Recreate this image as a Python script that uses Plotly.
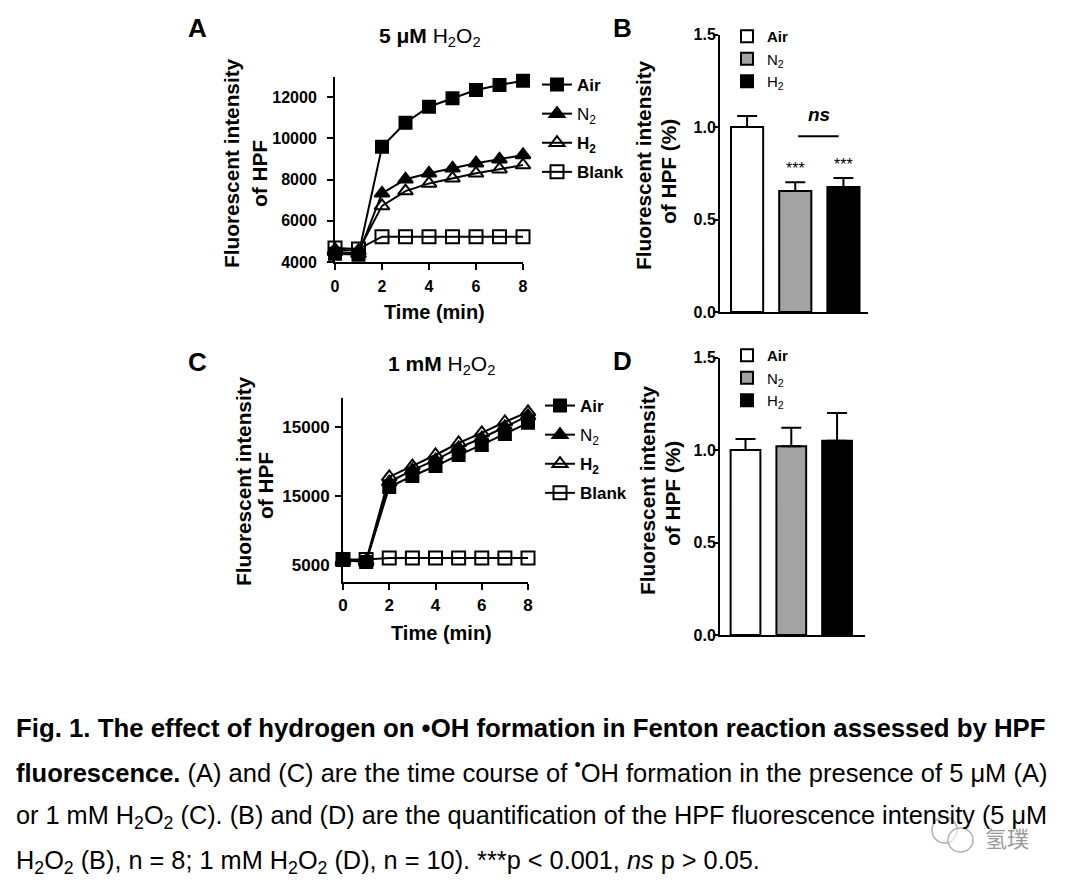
import plotly.graph_objects as go

W, H = 1066, 883
OFF = 8  # page body margin
FONT = "Liberation Sans, Arial, sans-serif"

# ---------------- data ----------------
time_min = [0, 1, 2, 3, 4, 5, 6, 7, 8]

# Panel A: 5 uM H2O2
a_air = [4400, 4350, 9590, 10750, 11530, 11940, 12340, 12580, 12790]
a_n2 = [4500, 4400, 7330, 8010, 8300, 8540, 8790, 8980, 9190]
a_h2 = [4600, 4550, 6720, 7440, 7810, 8060, 8300, 8500, 8700]
a_blank = [4680, 4630, 5230, 5230, 5230, 5230, 5230, 5230, 5230]

# Panel C: 1 mM H2O2
c_air = [5360, 5220, 10650, 11450, 12170, 12970, 13700, 14490, 15300]
c_n2 = [5300, 5250, 11010, 11880, 12600, 13480, 14200, 15000, 15800]
c_h2 = [5400, 5300, 11380, 12170, 12970, 13840, 14570, 15360, 16090]
c_blank = [5400, 5400, 5500, 5500, 5500, 5500, 5500, 5500, 5500]

# Panels B and D: normalised intensity (mean, SEM)
groups = ["Air", "N2", "H2"]
b_mean = [1.00, 0.654, 0.676]
b_err = [0.059, 0.048, 0.048]
d_mean = [1.00, 1.02, 1.05]
d_err = [0.06, 0.10, 0.15]

# tick labels
a_xticks = [0, 2, 4, 6, 8]
a_xticklabels = ["0", "2", "4", "6", "8"]
a_yticks = [4000, 6000, 8000, 10000, 12000]
a_yticklabels = ["4000", "6000", "8000", "10000", "12000"]
c_yticks = [5000, 10000, 15000]
c_yticklabels = ["5000", "15000", "15000"]
bar_yticks = [0.0, 0.5, 1.0, 1.5]
bar_yticklabels = ["0.0", "0.5", "1.0", "1.5"]


# ---------------- helpers ----------------
def fx(p):
    return (p - OFF) / W


def fy(p):
    return 1 - (p - OFF) / H


def tf(size):
    return dict(family=FONT, size=size, color="black", weight="bold")


axis_common = dict(
    showline=True, linecolor="black", linewidth=2,
    ticks="outside", ticklen=6, tickwidth=2, tickcolor="black",
    showgrid=False, zeroline=False, tickfont=tf(16),
)

fig = go.Figure()

line_names = ["<b>Air</b>", "N<sub>2</sub>", "<b>H<sub>2</sub></b>", "<b>Blank</b>"]
symbols = ["square", "triangle-up", "triangle-up-open", "square-open"]
sizes = [12, 13, 13, 13]


def add_lines(series, xa, ya, legend):
    for s, name, sym, sz in zip(series, line_names, symbols, sizes):
        fig.add_trace(go.Scatter(
            x=time_min, y=s, mode="lines+markers", name=name,
            xaxis=xa, yaxis=ya, legend=legend, legendgroup=legend + name,
            line=dict(color="black", width=2),
            marker=dict(symbol=sym, size=sz, color="black",
                        line=dict(color="black", width=2)),
            cliponaxis=False,
        ))


add_lines([a_air, a_n2, a_h2, a_blank], "x", "y", "legend")
add_lines([c_air, c_n2, c_h2, c_blank], "x3", "y3", "legend3")

bar_colors = ["white", "#a3a3a3", "black"]
bar_names = ["<b>Air</b>", "N<sub>2</sub>", "H<sub>2</sub>"]


def add_bars(means, errs, xa, ya, legend, width):
    for i, (m, e) in enumerate(zip(means, errs)):
        fig.add_trace(go.Bar(
            x=[i], y=[m], width=width, name=bar_names[i],
            xaxis=xa, yaxis=ya, legend=legend, legendgroup=legend + groups[i],
            marker=dict(color=bar_colors[i], line=dict(color="black", width=2)),
            error_y=dict(type="data", symmetric=False, array=[e], arrayminus=[0],
                         color="black", thickness=2, width=10),
        ))


add_bars(b_mean, b_err, "x2", "y2", "legend2", 0.667)
add_bars(d_mean, d_err, "x4", "y4", "legend4", 0.65)

fig.update_layout(
    width=W, height=H, margin=dict(l=0, r=0, t=0, b=0, autoexpand=False),
    paper_bgcolor="white", plot_bgcolor="white",
    barmode="overlay", showlegend=True,
    font=dict(family=FONT, color="black"),
    # Panel A
    xaxis=dict(axis_common, domain=[fx(335), fx(523)], range=[0, 8], anchor="y",
               tickvals=a_xticks, ticktext=a_xticklabels, tickfont=tf(16),
               ticklabelstandoff=3),
    yaxis=dict(axis_common, domain=[fy(262), fy(77)], range=[4000, 12970], anchor="x",
               tickvals=a_yticks, ticktext=a_yticklabels, ticklabelstandoff=7),
    # Panel B
    xaxis2=dict(axis_common, domain=[fx(720), fx(868)], range=[-0.5625, 2.51], anchor="y2",
                showticklabels=False, ticks=""),
    yaxis2=dict(axis_common, domain=[fy(312), fy(34.5)], range=[0, 1.5], anchor="x2",
                tickvals=bar_yticks, ticktext=bar_yticklabels, ticklen=5,
                ticklabelstandoff=-6, tickfont=tf(16)),
    # Panel C
    xaxis3=dict(axis_common, domain=[fx(343), fx(528)], range=[0, 8], anchor="y3",
                tickvals=a_xticks, ticktext=a_xticklabels, tickfont=tf(17),
                ticklabelstandoff=1),
    yaxis3=dict(axis_common, domain=[fy(582), fy(398)], range=[3768, 17100], anchor="x3",
                tickvals=c_yticks, ticktext=c_yticklabels, ticklabelstandoff=2,
                tickfont=tf(17)),
    # Panel D
    xaxis4=dict(axis_common, domain=[fx(720), fx(865)], range=[-0.557, 2.61], anchor="y4",
                showticklabels=False, ticks=""),
    yaxis4=dict(axis_common, domain=[fy(635), fy(357.5)], range=[0, 1.5], anchor="x4",
                tickvals=bar_yticks, ticktext=bar_yticklabels, ticklen=5,
                ticklabelstandoff=-6, tickfont=tf(16)),
)

leg_common = dict(bgcolor="rgba(0,0,0,0)", borderwidth=0, xanchor="left", yanchor="top",
                  tracegroupgap=4, itemwidth=30, itemclick=False,
                  font=dict(family=FONT, size=17, color="black"))
bar_leg = dict(leg_common, tracegroupgap=0, font=dict(family=FONT, size=15, color="black"))
fig.update_layout(
    legend=dict(leg_common, x=fx(537), y=fy(67)),
    legend3=dict(leg_common, x=fx(540), y=fy(388)),
    legend2=dict(bar_leg, x=fx(727), y=fy(20)),
    legend4=dict(bar_leg, x=fx(727), y=fy(339)),
)

annotations = []


def ann(text, x, y, size, bold=False, angle=0, xanchor="center", yanchor="middle",
        color="black", family=FONT):
    annotations.append(dict(
        text=text, x=fx(x), y=fy(y), xref="paper", yref="paper", showarrow=False,
        xanchor=xanchor, yanchor=yanchor, textangle=angle,
        font=dict(family=family, size=size, color=color,
                  weight="bold" if bold else "normal"),
    ))


# Panel letters
ann("A", 197, 28, 26, bold=True)
ann("B", 622, 28, 26, bold=True)
ann("C", 197, 362, 26, bold=True)
ann("D", 622, 361, 26, bold=True)

# Panel titles
ann("<b>5 μM</b> H<sub>2</sub>O<sub>2</sub>", 430, 37, 21)
ann("<b>1 mM</b> H<sub>2</sub>O<sub>2</sub>", 441, 365, 21)

# Y-axis titles
ann("Fluorescent intensity", 231, 163, 20.8, bold=True, angle=-90)
ann("of HPF", 259, 174, 20.8, bold=True, angle=-90)
ann("Fluorescent intensity", 243, 481, 20.8, bold=True, angle=-90)
ann("of HPF", 265, 486, 20.8, bold=True, angle=-90)
ann("Fluorescent intensity", 644, 165, 20.8, bold=True, angle=-90)
ann("of HPF (%)", 668, 172, 20.8, bold=True, angle=-90)
ann("Fluorescent intensity", 647, 490, 20.8, bold=True, angle=-90)
ann("of HPF (%)", 673, 494, 20.8, bold=True, angle=-90)

# X-axis titles
ann("Time (min)", 434, 312, 20, bold=True)
ann("Time (min)", 441, 633, 20, bold=True)

# significance marks in panel B (data coordinates)
for i in (1, 2):
    annotations.append(dict(
        text="***", x=i, y=b_mean[i] + b_err[i], xref="x2", yref="y2",
        showarrow=False, yanchor="bottom", yshift=3,
        font=dict(family=FONT, size=16, color="black"),
    ))
annotations.append(dict(
    text="<b><i>ns</i></b>", x=1.5, y=1.07, xref="x2", yref="y2", showarrow=False,
    font=dict(family=FONT, size=19, color="black"),
))
fig.add_shape(type="line", xref="x2", yref="y2", x0=1.06, x1=1.9, y0=0.95, y1=0.95,
              line=dict(color="black", width=2))

# Caption
cap = [
    "<b>Fig. 1. The effect of hydrogen on •OH formation in Fenton reaction assessed by HPF</b>",
    "<b>fluorescence.</b> (A) and (C) are the time course of <sup>•</sup>OH formation in the presence of 5 μM (A)",
    "or 1 mM H<sub>2</sub>O<sub>2</sub> (C). (B) and (D) are the quantification of the HPF fluorescence intensity (5 μM",
    "H<sub>2</sub>O<sub>2</sub> (B), n = 8; 1 mM H<sub>2</sub>O<sub>2</sub> (D), n = 10). ***p &lt; 0.001, <i>ns</i> p &gt; 0.05.",
]
cap_y = [728, 771, 817, 862]
cap_size = [25.8, 25.5, 25.3, 25.3]
for t, yy, sz in zip(cap, cap_y, cap_size):
    ann(t, 14, yy, sz, xanchor="left")

# watermark (WeChat-style bubbles + name)
fig.add_shape(type="circle", xref="paper", yref="paper",
              x0=fx(932), x1=fx(957), y0=fy(843), y1=fy(817),
              line=dict(color="#b0b0b0", width=1.5), fillcolor="rgba(255,255,255,0.6)")
fig.add_shape(type="circle", xref="paper", yref="paper",
              x0=fx(948), x1=fx(973), y0=fy(852), y1=fy(828),
              line=dict(color="#b0b0b0", width=1.5), fillcolor="rgba(255,255,255,0.6)")
ann("氢璞", 1007, 837, 22, color="#9a9a9a", family="Noto Sans CJK SC")

fig.update_layout(annotations=annotations)
fig.write_html("out.html")
